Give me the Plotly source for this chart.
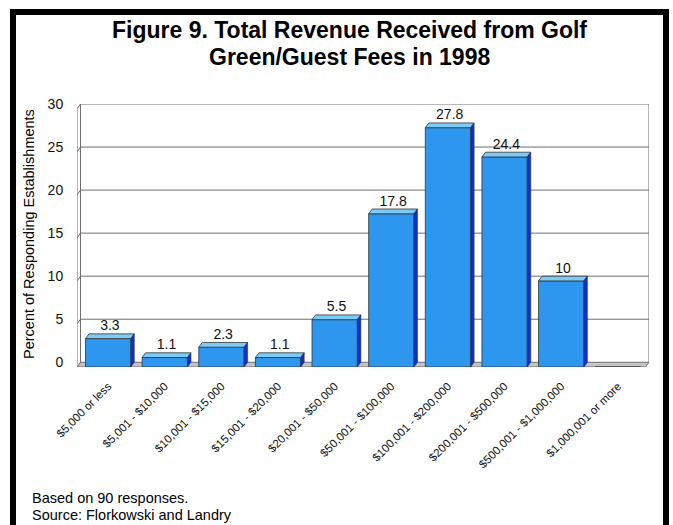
import plotly.graph_objects as go

# Survey data: share of golf establishments by green/guest fee revenue band
categories = [
    "$5,000 or less", "$5,001 - $10,000", "$10,001 - $15,000", "$15,001 - $20,000",
    "$20,001 - $50,000", "$50,001 - $100,000", "$100,001 - $200,000",
    "$200,001 - $500,000", "$500,001 - $1,000,000", "$1,000,001 or more",
]
percents = [3.3, 1.1, 2.3, 1.1, 5.5, 17.8, 27.8, 24.4, 10, 0]
y_ticks = [0, 5, 10, 15, 20, 25, 30]

W, H = 673, 525
L, R, T, B = 77, 24, 104, 158
PW, PH = W - L - R, H - T - B

X0, X1 = -0.55, len(categories) - 1 + 0.55
Y0, Y1 = -0.55, 30

# 3D look: depth offsets in axis units
DX = 0.062          # horizontal depth (categories)
DY = -Y0            # vertical depth (percent units)
BW = 0.80           # front face width

FRONT = "#2D96EE"
TOP = "#7DCBF8"
SIDE = "#0B2FE0"
EDGE = "#333333"
FONT = "Arial, Liberation Sans, sans-serif"


def fx(px):
    return (px - L) / PW


def fy(py):
    return (H - B - py) / PH


xs = list(range(len(categories)))

fig = go.Figure()

# front faces of the bars, sitting on the front edge of the floor
fig.add_trace(go.Bar(
    x=xs, y=percents, base=Y0, width=BW,
    marker=dict(color=FRONT, line=dict(color=EDGE, width=0.8)),
    hoverinfo="skip", showlegend=False,
))

# top and side faces built from each bar's value
top_x, top_y, side_x, side_y = [], [], [], []
for i, v in zip(xs, percents):
    if v <= 0:
        continue
    l, r = i - BW / 2, i + BW / 2
    h = Y0 + v
    top_x += [l, r, r + DX, l + DX, l, None]
    top_y += [h, h, h + DY, h + DY, h, None]
    side_x += [r, r + DX, r + DX, r, r, None]
    side_y += [Y0, Y0 + DY, h + DY, h, Y0, None]

fig.add_trace(go.Scatter(
    x=top_x, y=top_y, mode="lines", fill="toself", fillcolor=TOP,
    line=dict(color=EDGE, width=0.8), hoverinfo="skip", showlegend=False,
))
fig.add_trace(go.Scatter(
    x=side_x, y=side_y, mode="lines", fill="toself", fillcolor=SIDE,
    line=dict(color=EDGE, width=0.6), hoverinfo="skip", showlegend=False,
))

# value labels above each bar
lab_x = [i + DX / 2 for i, v in zip(xs, percents) if v > 0]
lab_y = [v for v in percents if v > 0]
lab_t = [f"{v:g}" for v in percents if v > 0]
fig.add_trace(go.Scatter(
    x=lab_x, y=lab_y, mode="text", text=lab_t, textposition="top center",
    textfont=dict(family=FONT, size=14, color="#111111"),
    hoverinfo="skip", showlegend=False,
))

shapes = []
# floor slab
shapes.append(dict(
    type="path", xref="x", yref="y", layer="below",
    path=f"M {X0},{Y0} L {X1 - DX},{Y0} L {X1},{0} L {X0 + DX},{0} Z",
    fillcolor="#C4C4C4", line=dict(color="#555555", width=0.8),
))
# back-wall gridlines with a short slant on the side wall
for t in y_ticks[1:]:
    shapes.append(dict(
        type="path", xref="x", yref="y", layer="below",
        path=f"M {X0},{t - DY} L {X0 + DX},{t} L {X1},{t}",
        line=dict(color="#6E6E6E", width=1),
    ))
# side wall and right edge of the back wall
shapes.append(dict(type="line", xref="x", yref="y", layer="below",
                   x0=X0, y0=Y0, x1=X0, y1=Y1 - DY,
                   line=dict(color="#6E6E6E", width=1)))
shapes.append(dict(type="line", xref="x", yref="y", layer="below",
                   x0=X0 + DX, y0=0, x1=X0 + DX, y1=Y1,
                   line=dict(color="#6E6E6E", width=1)))
shapes.append(dict(type="line", xref="x", yref="y", layer="below",
                   x0=X1, y0=0, x1=X1, y1=Y1,
                   line=dict(color="#6E6E6E", width=1)))
# black frame around the figure
shapes.append(dict(type="rect", xref="paper", yref="paper",
                   x0=fx(13), x1=fx(666), y0=fy(560), y1=fy(12),
                   line=dict(color="black", width=6), fillcolor="rgba(0,0,0,0)"))

title_font = dict(family=FONT, size=23, color="black")
text_font = dict(family=FONT, size=14.5, color="black")

annotations = [
    dict(text="<b>Figure 9. Total Revenue Received from Golf</b>",
         xref="paper", yref="paper", x=fx(349), y=fy(30),
         xanchor="center", yanchor="middle", showarrow=False, font=title_font),
    dict(text="<b>Green/Guest Fees in 1998</b>",
         xref="paper", yref="paper", x=fx(349), y=fy(57),
         xanchor="center", yanchor="middle", showarrow=False, font=title_font),
    dict(text="Percent of Responding Establishments",
         xref="paper", yref="paper", x=fx(29), y=fy(234),
         xanchor="center", yanchor="middle", textangle=-90, showarrow=False,
         font=text_font),
    dict(text="Based on 90 responses.",
         xref="paper", yref="paper", x=fx(30), y=fy(498),
         xanchor="left", yanchor="middle", showarrow=False, font=text_font),
    dict(text="Source: Florkowski and Landry",
         xref="paper", yref="paper", x=fx(30), y=fy(515),
         xanchor="left", yanchor="middle", showarrow=False, font=text_font),
]

fig.update_layout(
    width=W, height=H,
    margin=dict(l=L, r=R, t=T, b=B, autoexpand=False),
    paper_bgcolor="white", plot_bgcolor="white",
    showlegend=False,
    shapes=shapes, annotations=annotations,
    xaxis=dict(
        range=[X0, X1], tickmode="array", tickvals=xs, ticktext=categories,
        tickangle=-45, showgrid=False, zeroline=False, showline=False,
        ticks="outside", ticklen=7, tickcolor="rgba(0,0,0,0)",
        tickfont=dict(family=FONT, size=11.5, color="#111111"),
    ),
    yaxis=dict(
        range=[Y0, Y1], tickmode="array", tickvals=y_ticks,
        showgrid=False, zeroline=False, showline=False,
        ticks="outside", ticklen=10, tickcolor="rgba(0,0,0,0)",
        tickfont=dict(family=FONT, size=14, color="#111111"),
    ),
    bargap=0.2,
)

fig.write_html("out.html")
